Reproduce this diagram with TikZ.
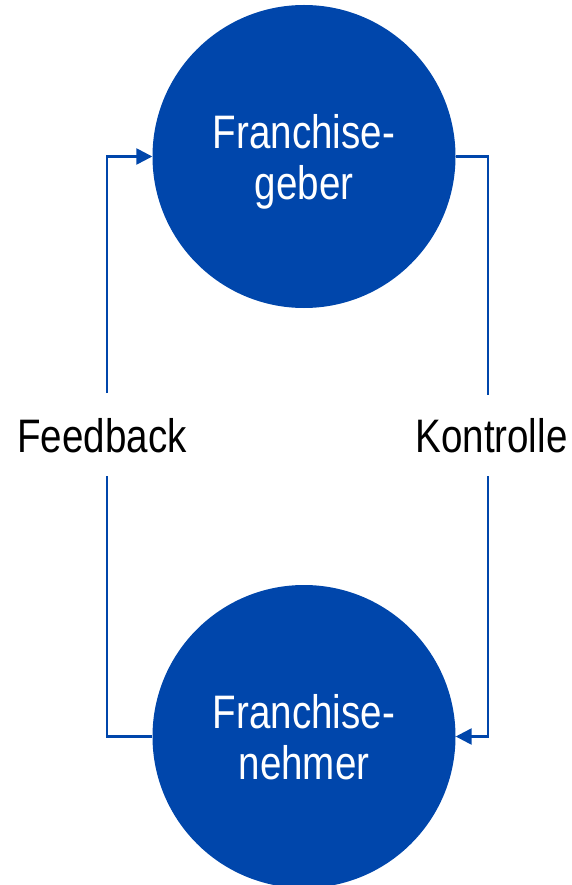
\documentclass[tikz,border=0pt]{standalone}
\usepackage{fontspec}
\setmainfont{Liberation Sans}[FakeStretch=0.82]
\usetikzlibrary{arrows.meta}
\definecolor{fblue}{RGB}{0,70,171}
\tikzset{
  party/.style={circle, fill=fblue, draw=none, minimum size=303pt, inner sep=0pt,
    text=white, align=center, text depth=0pt, font=\fontsize{47}{51}\selectfont},
  flowlabel/.style={inner sep=0pt, text=black, font=\fontsize{47}{51}\selectfont},
  conn/.style={draw=fblue, line width=2.5pt},
  tip/.style={-{Triangle[length=16pt,width=16pt]}}
}
\begin{document}
\begin{tikzpicture}[x=1pt,y=-1pt]
  \useasboundingbox (0,0) rectangle (572,885);

  % the two parties
  \node[party] (geber)  at (304,156.5) {Franchise-\\geber};
  \node[party] (nehmer) at (304,736.5) {Franchise-\\nehmer};

  % side labels
  \node[flowlabel] (fb) at (102,436) {Feedback};
  \node[flowlabel] (ko) at (491.5,436) {Kontrolle};

  % line ends around the labels
  \coordinate (fbTop) at (107,393);
  \coordinate (fbBot) at (107,476);
  \coordinate (koTop) at (488,395);
  \coordinate (koBot) at (488,476);

  % feedback loop (left)
  \draw[conn] (nehmer.west) -| (fbBot);
  \draw[conn,tip] (fbTop) |- (geber.west);

  % control loop (right)
  \draw[conn] (geber.east) -| (koTop);
  \draw[conn,tip] (koBot) |- (nehmer.east);
\end{tikzpicture}
\end{document}
